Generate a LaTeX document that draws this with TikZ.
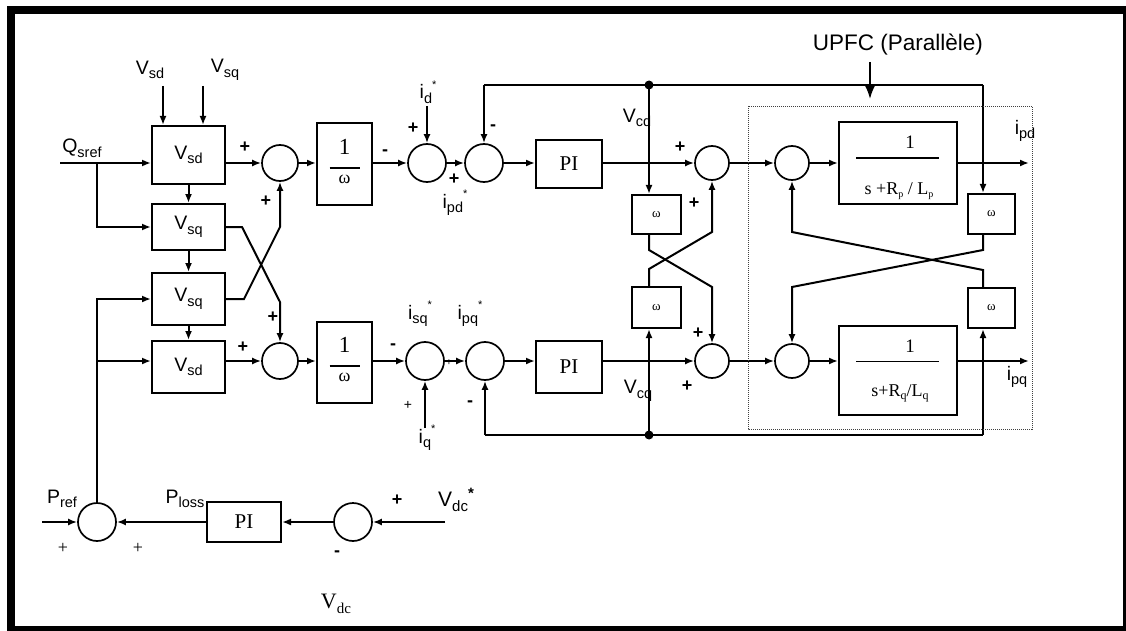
\documentclass[tikz,border=0pt]{standalone}
\usepackage{fontspec}
\setmainfont{Liberation Serif}
\newfontfamily\arial{Liberation Sans}
\usetikzlibrary{arrows.meta,calc}
\newcommand\mysub[2]{#1\raisebox{-0.45ex}{\fontsize{14.5}{15}\selectfont #2}}
\newcommand\mysubst[2]{#1\raisebox{-0.45ex}{\fontsize{14.5}{15}\selectfont #2}\raisebox{1.0ex}{\fontsize{11}{12}\selectfont *}}
\begin{document}
\begin{tikzpicture}[x=1pt,y=-1pt,
  blk/.style={draw, line width=2pt, inner sep=0pt},
  sumc/.style={draw, circle, minimum size=36pt, inner sep=0pt, line width=1.7pt},
  arr/.style={-{Latex[length=9pt,width=7pt]}, line width=2pt},
  ln/.style={line width=2pt},
  lab/.style={font=\arial\fontsize{19.5}{21}\selectfont, inner sep=0pt},
  sgn/.style={font=\arial\bfseries\fontsize{18}{20}\selectfont, inner sep=0pt},
  tms/.style={font=\fontsize{21}{23}\selectfont, inner sep=0pt},
  smw/.style={font=\fontsize{13}{14}\selectfont}]
\useasboundingbox (0,0) rectangle (1126,631);
% frame
\fill[black] (7,6) rectangle (1126,631);
\fill[white] (15,14) rectangle (1123,626);

% ---------- left decoupling blocks ----------
\node[blk, minimum width=73pt, minimum height=58pt, lab] (bsd1) at (188.5,155) {\mysub{V}{sd}};
\node[blk, minimum width=73pt, minimum height=46pt, lab] (bsq1) at (188.5,227) {\mysub{V}{sq}};
\node[blk, minimum width=73pt, minimum height=52pt, lab] (bsq2) at (188.5,299) {\mysub{V}{sq}};
\node[blk, minimum width=73pt, minimum height=52pt, lab] (bsd2) at (188.5,367) {\mysub{V}{sd}};

\node[lab] (lvsd) at (150,70) {\mysub{V}{sd}};
\node[lab] (lvsq) at (225,70) {\mysub{V}{sq}};
\coordinate (vsdin) at (163,86);
\coordinate (vsqin) at (203,86);
\draw[arr] (vsdin) -- (vsdin |- bsd1.north);
\draw[arr] (vsqin) -- (vsqin |- bsd1.north);

\node[lab] (lq) at (82,148) {\mysub{Q}{sref}};
\coordinate (qin) at (60,163);
\coordinate (qbr) at (97,163);
\draw[arr] (qin) -- (qin -| bsd1.west);
\draw[arr] (qbr) |- (bsq1.west);

\draw[arr] (bsd1.south) -- (bsq1.north);
\draw[arr] (bsq1.south) -- (bsq2.north);
\draw[arr] (bsq2.south) -- (bsd2.north);

% sums
\node[sumc] (c1) at (280,163) {};
\node[sumc] (c2) at (280,361) {};
\draw[arr] (bsd1.east |- c1) -- (c1.west);
\draw[arr] (bsd2.east |- c2) -- (c2.west);
\draw[arr] (bsq1.east) -- ++(16,0) -- (280,302) -- (c2.north);
\draw[arr] (bsq2.east) -- ++(18,0) -- (280,227) -- (c1.south);
\node[sgn] at (245,147) {+};
\node[sgn] at (266,201) {+};
\node[sgn] at (273,317) {+};
\node[sgn] at (243,347) {+};

% 1/omega
\node[blk, minimum width=55pt, minimum height=81pt] (bw1) at (344.5,164) {};
\node[blk, minimum width=55pt, minimum height=81pt] (bw2) at (344.5,362) {};
\foreach \b in {bw1,bw2}{
  \node[font=\fontsize{23}{25}\selectfont, inner sep=0pt] at ($(\b.center)+(0,-17)$) {1};
  \draw[line width=1.2pt] ($(\b.center)+(-15,4)$) -- ($(\b.center)+(15,4)$);
  \node[font=\fontsize{18}{19}\selectfont, inner sep=0pt] at ($(\b.center)+(0,15)$) {ω};
}
\draw[arr] (c1.east) -- (bw1.west |- c1);
\draw[arr] (c2.east) -- (bw2.west |- c2);

% top current sums
\node[sumc, minimum size=38pt] (c3) at (427,163) {};
\node[sumc, minimum size=38pt] (c4) at (484,163) {};
\draw[arr] (bw1.east |- c3) -- (c3.west);
\draw[arr] (c3.east) -- (c4.west);
\coordinate (idin) at (427,106);
\draw[arr] (idin) -- (c3.north);
\node[lab] at (428,92) {\mysubst{i}{d}};
\node[sgn] at (385,153) {-};
\node[sgn] at (413,128) {+};
\node[sgn] at (454,179) {+};
\node[lab] at (455,203) {\mysubst{i}{pd}};
\node[sgn] at (493,128) {-};

% bottom current sums
\node[sumc, minimum size=38pt] (c3b) at (425,361) {};
\node[sumc, minimum size=38pt] (c4b) at (485,361) {};
\draw[arr] (bw2.east |- c3b) -- (c3b.west);
\draw[arr] (c3b.east) -- (c4b.west);
\coordinate (iqin) at (425,428);
\draw[arr] (iqin) -- (c3b.south);
\node[lab] at (420,314) {\mysubst{i}{sq}};
\node[lab] at (470,314) {\mysubst{i}{pq}};
\node[lab] at (427,438) {\mysubst{i}{q}};
\node[sgn] at (393,347) {-};
\node[font=\arial\fontsize{10}{11}\selectfont, inner sep=0pt] at (449,363) {+};
\node[font=\arial\fontsize{14}{15}\selectfont, inner sep=0pt] at (408,405) {+};
\node[sgn] at (470,404) {-};

% PI
\node[blk, minimum width=66pt, minimum height=48pt, tms] (pi1) at (569,164) {PI};
\node[blk, minimum width=66pt, minimum height=52pt, tms] (pi2) at (569,367) {PI};
\draw[arr] (c4.east) -- (pi1.west |- c4);
\draw[arr] (c4b.east) -- (pi2.west |- c4b);

% omega cross blocks (left)
\node[blk, minimum width=49pt, minimum height=39pt, smw] (ww1) at (656.5,214.5) {ω};
\node[blk, minimum width=49pt, minimum height=41pt, smw] (ww2) at (656.5,307.5) {ω};
\node[sumc, minimum size=34pt] (c5) at (712,163) {};
\node[sumc, minimum size=34pt] (c7) at (712,361) {};
\draw[arr] (pi1.east |- c5) -- (c5.west);
\draw[arr] (pi2.east |- c7) -- (c7.west);

% right sums and plant
\node[sumc, minimum size=34pt] (c6) at (792,163) {};
\node[sumc, minimum size=34pt] (c8) at (792,361) {};
\draw[arr] (c5.east) -- (c6.west);
\draw[arr] (c7.east) -- (c8.west);

\node[blk, minimum width=118pt, minimum height=82pt] (td) at (898,163) {};
\node[blk, minimum width=118pt, minimum height=89pt] (tq) at (898,370.5) {};
\node[font=\fontsize{19}{20}\selectfont, inner sep=0pt] at ($(td.center)+(12,-21)$) {1};
\draw[line width=1.2pt] ($(td.center)+(-42,-5)$) -- ($(td.center)+(41,-5)$);
\node[font=\fontsize{18}{20}\selectfont, inner sep=0pt] at ($(td.center)+(1,28)$) {s +R\raisebox{-0.4ex}{\fontsize{10}{11}\selectfont p} / L\raisebox{-0.4ex}{\fontsize{10}{11}\selectfont p}};
\node[font=\fontsize{19}{20}\selectfont, inner sep=0pt] at ($(tq.center)+(12,-24)$) {1};
\draw[line width=1.2pt] ($(tq.center)+(-42,-9)$) -- ($(tq.center)+(41,-9)$);
\node[font=\fontsize{18}{20}\selectfont, inner sep=0pt] at ($(tq.center)+(2,23)$) {s+R\raisebox{-0.4ex}{\fontsize{12}{13}\selectfont q}/L\raisebox{-0.4ex}{\fontsize{12}{13}\selectfont q}};
\draw[arr] (c6.east) -- (td.west |- c6);
\draw[arr] (c8.east) -- (tq.west |- c8);
\coordinate (ipdout) at (1029,163);
\coordinate (ipqout) at (1029,361);
\draw[arr] (td.east |- c6) -- (ipdout);
\draw[arr] (tq.east |- c8) -- (ipqout);
\node[lab] at (1025,131) {\mysub{i}{pd}};
\node[lab] at (1017,377) {\mysub{i}{pq}};

\node[blk, minimum width=47pt, minimum height=40pt, smw] (ww3) at (991.5,214) {ω};
\node[blk, minimum width=47pt, minimum height=40pt, smw] (ww4) at (991.5,308) {ω};

% top feedback line
\coordinate (ftl) at (484,85);
\coordinate (fdot) at (649,85);
\coordinate (ftr) at (983,85);
\draw[ln] (ftl) -- (ftr);
\draw[arr] (ftl) -- (c4.north);
\draw[arr] (ftr) -- (ftr |- ww3.north);
\draw[arr] (fdot) -- (fdot |- ww1.north);
\fill (fdot) circle (4.5pt);
\node[lab] at (637,118) {\mysub{V}{cd}};
\node[sgn] at (680,147) {+};
\node[sgn] at (694,203) {+};

% bottom feedback line
\coordinate (fbl) at (485,435);
\coordinate (fbdot) at (649,435);
\coordinate (fbr) at (983,435);
\draw[ln] (fbl) -- (fbr);
\draw[arr] (fbl) -- (c4b.south);
\draw[arr] (fbr) -- (fbr |- ww4.south);
\draw[arr] (fbdot) -- (fbdot |- ww2.south);
\fill (fbdot) circle (4.5pt);
\node[lab] at (638,391) {\mysub{V}{cq}};
\node[sgn] at (698,333) {+};
\node[sgn] at (687,386) {+};

% crossings
\draw[arr] (fdot |- ww1.south) -- (649,250) -- (712,287) -- (c7.north);
\draw[arr] (fdot |- ww2.north) -- (649,269) -- (712,232) -- (c5.south);
\draw[arr] (ftr |- ww3.south) -- (983,250) -- (792,287) -- (c8.north);
\draw[arr] (ftr |- ww4.north) -- (983,270) -- (792,232) -- (c6.south);

% dotted UPFC box
\draw[line width=0.9pt, dash pattern=on 1pt off 1pt, black!75] (748,106) rectangle (1032,429);
\node[font=\arial\fontsize{22.5}{24}\selectfont, inner sep=0pt] (upfc) at (898,45) {UPFC (Parallèle)};
\coordinate (ua) at (870,99);
\draw[-{Latex[length=14pt,width=11pt]}, line width=2pt] (ua |- upfc.south) ++(0,6) -- (ua);

% bottom DC loop
\node[sumc, minimum size=38pt] (cp) at (97,522) {};
\node[blk, minimum width=74pt, minimum height=40pt, tms] (pip) at (244,522) {PI};
\node[sumc, minimum size=38pt] (cv) at (353,522) {};
\coordinate (prefin) at (42,522);
\coordinate (vdcin) at (445,522);
\draw[arr] (prefin) -- (cp.west);
\draw[arr] (pip.west) -- (cp.east);
\draw[arr] (cv.west) -- (pip.east);
\draw[arr] (vdcin) -- (cv.east);
\draw[arr] (cp.north) |- (bsq2.west);
\draw[arr] (cp.north |- c2) -- (bsd2.west |- c2);
\node[lab] at (62,499) {\mysub{P}{ref}};
\node[lab] at (185,499) {\mysub{P}{loss}};
\node[font=\fontsize{18}{20}\selectfont, inner sep=0pt] at (63,548) {+};
\node[font=\fontsize{18}{20}\selectfont, inner sep=0pt] at (138,548) {+};
\node[sgn] at (397,500) {+};
\node[lab, font=\arial\fontsize{21}{23}\selectfont] at (456,500) {V\raisebox{-0.45ex}{\fontsize{15}{16}\selectfont dc}\raisebox{0.7ex}{\fontsize{15}{16}\selectfont\bfseries *}};
\node[sgn] at (337,554) {-};
\node[font=\fontsize{22}{24}\selectfont, inner sep=0pt] at (336,604) {V\raisebox{-0.45ex}{\fontsize{15}{16}\selectfont dc}};
\end{tikzpicture}
\end{document}
